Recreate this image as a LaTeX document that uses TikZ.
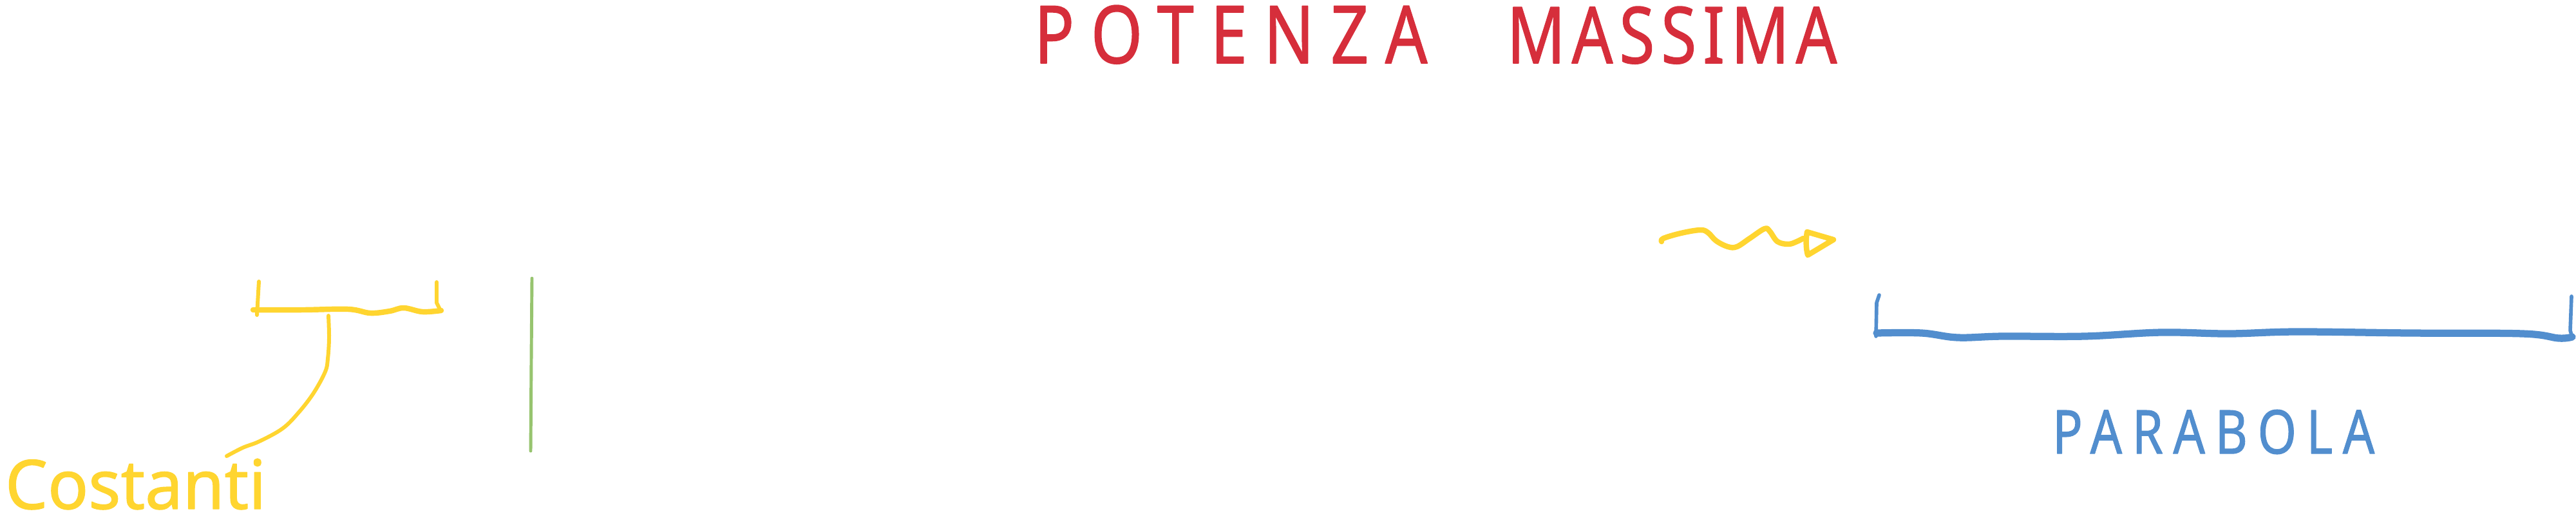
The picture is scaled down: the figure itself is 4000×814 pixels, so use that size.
\documentclass[tikz,border=0pt]{standalone}
\usepackage{fontspec}
\setmainfont{Noto Sans}
\usepackage{graphicx}
\definecolor{hred}{HTML}{D62E3B}
\definecolor{hyel}{HTML}{FFD530}
\definecolor{hgrn}{HTML}{97C46F}
\definecolor{hblu}{HTML}{528ECE}
\tikzset{
  yelpen/.style={draw=hyel, line width=2.4pt},
  yelthin/.style={draw=hyel, line width=1.7pt},
  grnpen/.style={draw=hgrn, line width=1.4pt},
  blupen/.style={draw=hblu, line width=3.2pt},
  bluthin/.style={draw=hblu, line width=1.6pt},
  label/.style={inner sep=0pt, outer sep=0pt, anchor=north west}
}
\begin{document}
\begin{tikzpicture}[x=0.01cm, y=-0.01cm, line cap=round, line join=round]
\useasboundingbox (0,0) rectangle (4000,814);

% title
\node[label, text=hred] (potenza) at (1606,8)
  {\resizebox{6.10cm}{0.90cm}{\addfontfeature{LetterSpace=25,FakeBold=1.2}POTENZA}};
\node[label, text=hred] (massima) at (2340,10)
  {\resizebox{5.12cm}{0.88cm}{\addfontfeature{LetterSpace=10,FakeBold=1.2}MASSIMA}};

% yellow bracket
\coordinate (ylt) at (402,437);
\coordinate (ylb) at (399,489);
\coordinate (yrt) at (678,438);
\coordinate (yrb) at (684,482);
\draw[yelthin] (ylt) -- (ylb);
\draw[yelpen] plot[smooth, tension=0.6] coordinates {(393,481) (470,481) (541,480) (575,486) (605,483) (627,478) (656,484) (685,482)};
\draw[yelthin] (yrt) -- (678,470) -- (yrb);

% yellow stem to label
\node[label, text=hyel] (costanti) at (8,712)
  {\resizebox{4.05cm}{0.78cm}{\addfontfeature{FakeBold=1.2}Costanti}};
\coordinate (stemtop) at (510,490);
\coordinate (stemend) at (352,708);
\draw[yelthin] plot[smooth, tension=0.6] coordinates {(stemtop) (511,525) (509,557) (505,577) (487,610) (464,640) (439,665) (403,685) (377,695) (stemend)};

% green line
\coordinate (gtop) at (826,432);
\coordinate (gbot) at (824,700);
\draw[grnpen] (gtop) -- (825,560) -- (gbot);

% yellow squiggle arrow
\coordinate (sqs) at (2580,375);
\coordinate (sqe) at (2800,370);
\draw[yelpen] plot[smooth, tension=0.6] coordinates {(sqs) (2583,370) (2610,362) (2640,357) (2652,361) (2665,374) (2683,383) (2697,383) (2717,370) (2740,355) (2748,359) (2760,375) (2777,379) (2790,375) (sqe)};
\coordinate (tria) at (2806,360);
\coordinate (trib) at (2847,372);
\coordinate (tric) at (2807,396);
\draw[yelpen] (tria) -- (trib) -- (tric) .. controls (2804,385) and (2804,372) .. (tria);

% blue bracket
\coordinate (blt) at (2918,458);
\coordinate (blb) at (2913,522);
\coordinate (brt) at (3993,460);
\coordinate (brb) at (3994,523);
\draw[bluthin] (blt) -- (2914,470) -- (blb);
\draw[blupen] plot[smooth, tension=0.6] coordinates {(2914,517) (2984,517) (3040,524) (3110,522) (3237,522) (3356,516) (3461,518) (3566,515) (3742,517) (3917,518) (3973,525) (3994,523)};
\draw[bluthin] (brt) -- (3991,513) -- (brb);
\node[label, text=hblu] (parabola) at (3187,636)
  {\resizebox{5.00cm}{0.68cm}{\addfontfeature{LetterSpace=20,FakeBold=1.2}PARABOLA}};
\end{tikzpicture}
\end{document}
